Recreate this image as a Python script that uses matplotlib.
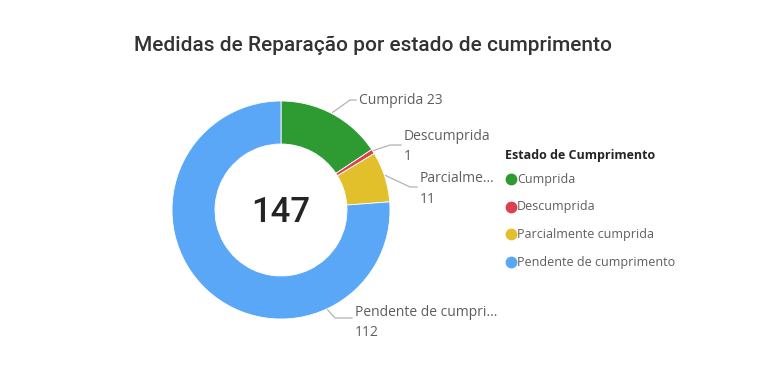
import numpy as np
import matplotlib.pyplot as plt
from matplotlib import font_manager

# data
estados = ["Cumprida", "Descumprida", "Parcialmente cumprida", "Pendente de cumprimento"]
valores = [23, 1, 11, 112]
rotulos = ["Cumprida 23", "Descumprida\n1", "Parcialme...\n11", "Pendente de cumpri...\n112"]
cores = ["#2E9A32", "#D9434F", "#E1C02B", "#5BA7F7"]

W, H = 769, 387
fig = plt.figure(figsize=(W / 100, H / 100), dpi=100)
ax = fig.add_axes([0, 0, 1, 1])
ax.set_xlim(0, W)
ax.set_ylim(H, 0)
ax.axis("off")

cx, cy, R, r_in = 281, 210, 109, 66
total = sum(valores)

pax = fig.add_axes([(cx - R) / W, 1 - (cy + R) / H, 2 * R / W, 2 * R / H])
pax.pie(valores, colors=cores, startangle=90, counterclock=False, radius=1,
        wedgeprops=dict(width=1 - r_in / R, edgecolor="white", linewidth=0.6))
pax.set_xlim(-1, 1)
pax.set_ylim(-1, 1)
pax.axis("off")

# data labels with leader lines (angles from top, clockwise)
ang_linha = [28, 57.5, 72, 155]
cotovelo = [(350, 100), (390, 145), (410, 187), (335, 318)]
texto_pos = [(359, 101), (404, 146.5), (420, 189), (355, 322.5)]
for lab, a, (ex, ey), (tx, ty) in zip(rotulos, ang_linha, cotovelo, texto_pos):
    t = np.deg2rad(a)
    px, py = cx + (R + 1) * np.sin(t), cy - (R + 1) * np.cos(t)
    ax.plot([px, ex, tx - 3], [py - 0.5 if a < 90 else py, ey, ey], color="#B3B3B3", lw=0.9)
    ax.text(tx, ty, lab, fontsize=10, color="#605E5C", va="center", ha="left",
            family="Open Sans", linespacing=1.5)

# narrow font for the big number if there is one
nomes = {f.name for f in font_manager.fontManager.ttflist}
fam_num = "Liberation Sans Narrow" if "Liberation Sans Narrow" in nomes else "Roboto"
ax.text(cx, 212, str(total), fontsize=25, color="#252423", ha="center", va="center",
        family=fam_num, fontweight="medium")

ax.text(373, 45, "Medidas de Reparação por estado de cumprimento", fontsize=15,
        color="#333333", ha="center", va="center", family="Roboto", fontweight="medium")

# legend
ax.text(505, 155, "Estado de Cumprimento", fontsize=9, fontweight="bold",
        color="#252423", ha="left", va="center", family="Open Sans")
for i, (nome, c) in enumerate(zip(estados, cores)):
    y = 179 + i * 27.7
    ax.plot(511, y, "o", ms=7.5, color=c)
    ax.text(517, y, nome, fontsize=9, color="#605E5C", ha="left", va="center",
            family="Open Sans")

fig.savefig("out.png", dpi=100)
